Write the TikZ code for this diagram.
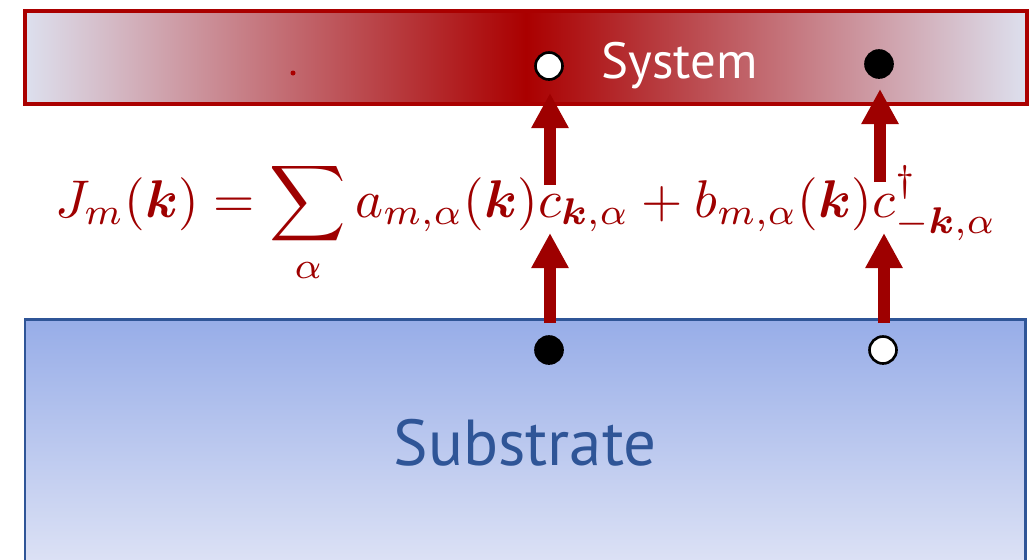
\documentclass[tikz,border=0pt]{standalone}
\usepackage{amsmath,bm}
\usepackage{fontspec}
\setsansfont{PT Sans}
\usetikzlibrary{arrows.meta,positioning}
\definecolor{sysred}{RGB}{170,0,0}
\definecolor{arrowred}{RGB}{158,0,0}
\definecolor{edgegray}{RGB}{221,224,238}
\definecolor{subblue}{RGB}{47,85,151}
\definecolor{subtop}{RGB}{151,173,232}
\definecolor{subbot}{RGB}{221,226,245}
\tikzset{
  hop/.style={arrowred, line width=0.24cm, -{Triangle[width=0.7cm,length=0.7cm]}},
  site/.style={circle, draw=black, line width=1.5pt, inner sep=0pt, minimum size=0.54cm},
  filledsite/.style={site, fill=black},
  emptysite/.style={site, fill=white}
}
\begin{document}
\begin{tikzpicture}[x=0.02cm, y=-0.02cm]
    \useasboundingbox (0,0) rectangle (1031,559);

    % Schicht oben: System
    \draw[sysred, line width=0.08cm, left color=edgegray, right color=edgegray, middle color=sysred]
        (25,11) rectangle (1027,104);
    \node[white, font=\sffamily\fontsize{29}{30}\selectfont, anchor=base west] (systxt) at (595,78) {System};
    \fill[sysred] (293,73) circle (2.5);

    % Schicht unten: Substrat
    \draw[subblue, line width=0.06cm, top color=subtop, bottom color=subbot]
        (25,319) rectangle (1025,565);
    \node[subblue, font=\sffamily\fontsize{37}{40}\selectfont, anchor=base] (subtxt) at (525,465) {Substrate};

    % Zustaende
    \node[emptysite] (s1) at (549,66) {};
    \node[filledsite] (s2) at (879,64) {};
    \node[filledsite] (b1) at (549,350) {};
    \node[emptysite] (b2) at (883,350) {};

    % Formel
    \node[arrowred, scale=3.02, anchor=base] (jm) at (526,217)
        {$J_m(\bm{k}) = \displaystyle\sum_\alpha a_{m,\alpha}(\bm{k}) c_{\bm{k},\alpha} + b_{m,\alpha}(\bm{k}) c^\dagger_{-\bm{k},\alpha}$};

    % Pfeile
    \coordinate (l0) at (550,323);
    \coordinate (l1) at (550,233);
    \coordinate (l2) at (550,185);
    \coordinate (l3) at (550,93);
    \coordinate (r0) at (884,323);
    \coordinate (r1) at (884,233);
    \coordinate (r2) at (880,182);
    \coordinate (r3) at (880,89);
    \draw[hop] (l0) -- (l1);
    \draw[hop] (l2) -- (l3);
    \draw[hop] (r0) -- (r1);
    \draw[hop] (r2) -- (r3);

\end{tikzpicture}
\end{document}
